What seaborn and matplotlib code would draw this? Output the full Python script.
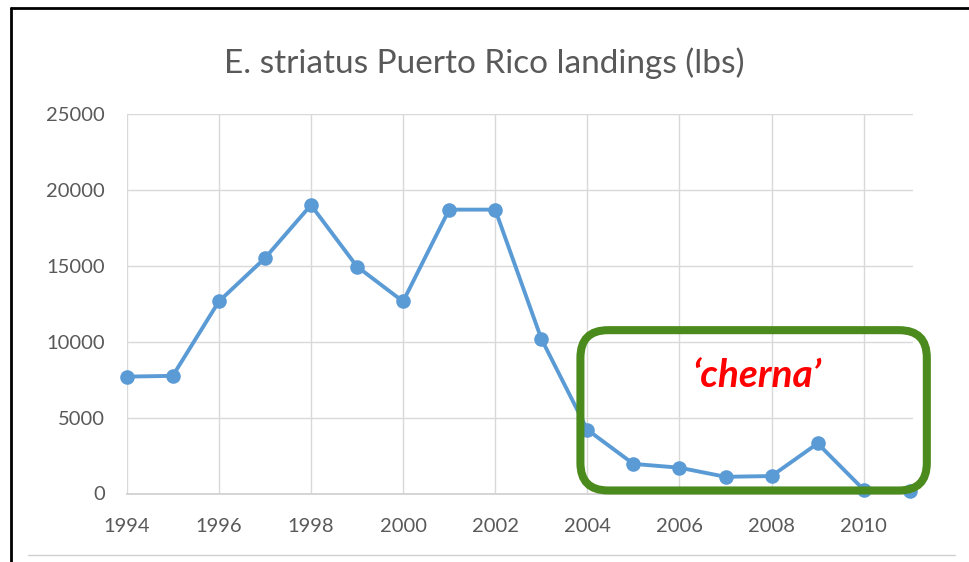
import numpy as np
import pandas as pd
import matplotlib
matplotlib.use("Agg")
import matplotlib.pyplot as plt
from matplotlib.lines import Line2D
from matplotlib.patches import FancyBboxPatch
import seaborn as sns

# Datos
years = [1994, 1995, 1996, 1997, 1998, 1999, 2000, 2001, 2002,
         2003, 2004, 2005, 2006, 2007, 2008, 2009, 2010, 2011]
landings = [7700, 7750, 12650, 15500, 19000, 14950, 12650, 18700, 18700,
            10200, 4200, 1950, 1700, 1100, 1150, 3300, 250, 150]
x_ticks = [1994, 1996, 1998, 2000, 2002, 2004, 2006, 2008, 2010]
y_ticks = [0, 5000, 10000, 15000, 20000, 25000]

df = pd.DataFrame({"year": years, "lbs": landings})

sns.set_theme(style="white")
plt.rcParams['font.family'] = ['Lato', 'DejaVu Sans']

W, H = 969, 562
fig = plt.figure(figsize=(W / 100, H / 100), dpi=100)
ax = fig.add_axes([126.7 / W, (H - 493.5) / H, (913 - 126.7) / W, (493.5 - 114) / H])

sns.lineplot(data=df, x="year", y="lbs", ax=ax, color="#5b9bd5", lw=2.8,
             marker="o", markersize=10.5, markeredgewidth=0, clip_on=False, zorder=3)

ax.set_xlim(1994, 2011.07)
ax.set_ylim(0, 25000)
ax.set_xticks(x_ticks)
ax.set_yticks(y_ticks)
ax.set_xticklabels([str(v) for v in x_ticks])
ax.set_yticklabels([str(v) for v in y_ticks])
ax.grid(True, color="#d9d9d9", lw=1)
ax.tick_params(axis="both", length=0, labelsize=14.5, labelcolor="#595959")
ax.tick_params(axis="y", pad=15.5)
ax.tick_params(axis="x", pad=17.5)
for s in ["left", "right", "top"]:
    ax.spines[s].set_visible(False)
ax.spines["bottom"].set_color("#d0d0d0")
ax.set_xlabel("")
ax.set_ylabel("")

fig.text(0.5, (H - 63) / H, "E. striatus Puerto Rico landings (lbs)", ha="center", va="center",
         fontsize=24, color="#595959")

# Recuadro verde y etiqueta
box = FancyBboxPatch((2003.85, 200), 2011.37 - 2003.85, 10760 - 200,
                     boxstyle="round,pad=0,rounding_size=0.6",
                     mutation_aspect=3024, fill=False, ec="#4b8a1c", lw=5.8,
                     clip_on=False, zorder=4, transform=ax.transData)
ax.add_patch(box)
ax.text(2007.67, 7800, "\u2018cherna\u2019", ha="center", va="center", color="#ff0000",
        fontsize=28, fontweight="bold", fontstyle="italic", zorder=5)

# Bordes de la figura
fig.add_artist(Line2D([11 / W, 11 / W], [0, (H - 8) / H], color="black", lw=2))
fig.add_artist(Line2D([11 / W, 1], [(H - 8) / H, (H - 8) / H], color="black", lw=2))
fig.add_artist(Line2D([28 / W, 955 / W], [(H - 555) / H, (H - 555) / H], color="#d0d0d0", lw=1))

plt.savefig("out.png", dpi=100)
plt.close()
